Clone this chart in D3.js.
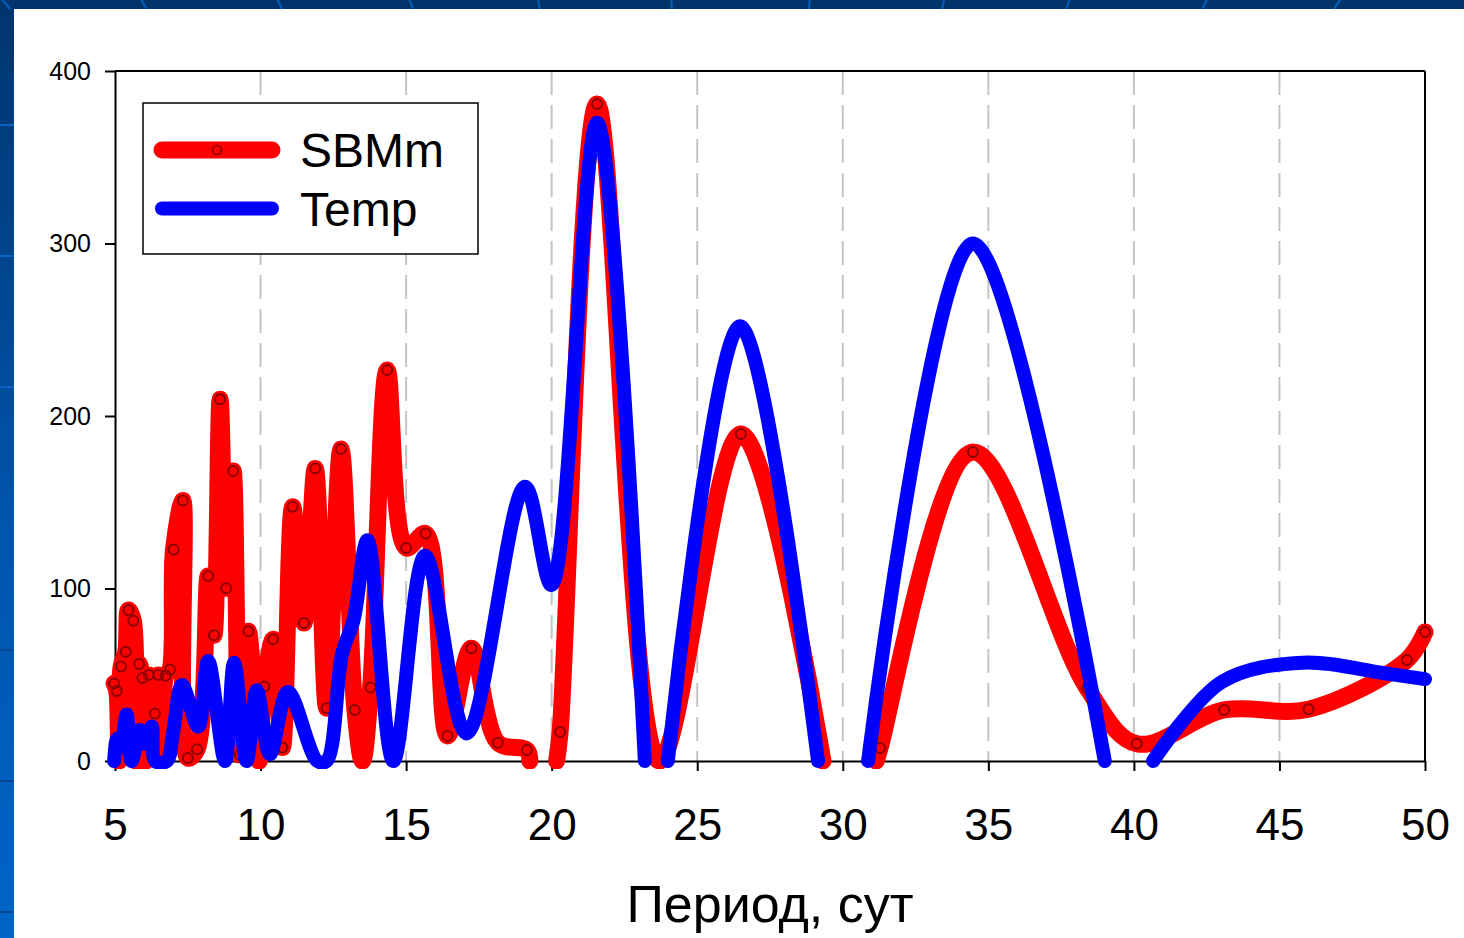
<!DOCTYPE html>
<html>
<head>
<meta charset="utf-8">
<script src="https://cdn.jsdelivr.net/npm/d3@7"></script>
<style>
  body { margin: 0; background: #fff; }
  text { font-family: "Liberation Sans", Arial, sans-serif; }
</style>
</head>
<body>
<script>
// оси
const xTicks = [5, 10, 15, 20, 25, 30, 35, 40, 45, 50];
const yTicks = [0, 100, 200, 300, 400];

// SBMm (красная линия с маркерами), 0 = кривая касается оси, null = разрыв
const sbmPeriod = [4.97, 5.06, 5.13, 5.21, 5.37, 5.46, 5.63, 5.72, 5.83, 5.94, 6.05, 6.16, 6.37, 6.49, 6.6, 6.74, 6.89, 7.01, 7.33, 7.50, 7.82, 8.20, 8.40, 8.61, 8.82, 9.06, 9.29, 9.58, 9.95, 10.13, 10.43, 10.75, 11.10, 11.49, 11.88, 12.27, 12.76, 13.24, 13.5, 13.78, 14.35, 15.00, 15.67, 16.42, 17.24, 18.15, 19.15, 19.25, 19.7, 20.17, 20.29, 21.56, 23.7, 26.5, 29.32, 30.2, 31.15, 31.28, 34.47, 38.4, 40.1, 43.1, 46.0, 49.38, 50.0];
const sbmValue = [45, 40.6, 0, 54.8, 63.4, 87.5, 81.3, 0, 56.2, 48.1, 0, 49.9, 27.6, 49.9, 0, 49.4, 53.0, 122.6, 151.0, 1.7, 6.8, 107.2, 72.9, 209.7, 100.1, 168.1, 3.5, 75.2, 0, 43.2, 70.6, 7.8, 147.4, 80.0, 169.6, 30.6, 180.8, 29.6, 0, 42.6, 226.7, 123.5, 131.9, 14.5, 65.3, 10.6, 6.4, 0, null, 0, 16.8, 380.9, 0, 189.6, 0, null, 0, 7.5, 179.1, 42, 10, 29.6, 30, 58.6, 74.8];

// Temp (синяя линия)
const tempPeriod = [4.97, 5.07, 5.2, 5.4, 5.57, 5.86, 6.0, 6.26, 6.38, 6.78, 7.0, 7.3, 7.86, 8.2, 8.78, 9.09, 9.52, 9.87, 10.32, 10.94, 11.95, 12.27, 12.8, 13.2, 13.67, 14.56, 15.65, 17.08, 19.08, 19.99, 21.56, 23.2, 23.6, 23.99, 26.47, 29.15, 30.0, 30.87, 34.47, 39.0, 39.8, 40.66, 43.03, 45.8, 48.56, 50.0];
const tempValue = [0, 13, 8, 27, 0, 18, 10, 20, 0, 0, 17, 44, 20, 58, 0, 57, 0, 41, 4, 40, 0, 0, 62, 82, 128, 0, 119, 16, 159, 102, 370, 0, null, 0, 252, 0, null, 0, 300, 0, null, 0, 46, 57, 51, 47.5];

const w = 1464;
const h = 938;

const sbm = sbmPeriod.map((p, i) => ({ p: p, v: sbmValue[i] }));
const temp = tempPeriod.map((p, i) => ({ p: p, v: tempValue[i] }));

const svg = d3.select("body").append("svg").attr("width", w).attr("height", h);

// фон слайда
const grad = svg.append("defs").append("linearGradient")
  .attr("id", "bandGrad").attr("x1", 0).attr("y1", 0).attr("x2", 0).attr("y2", 1);
grad.append("stop").attr("offset", "0%").attr("stop-color", "#00356e");
grad.append("stop").attr("offset", "55%").attr("stop-color", "#0054ac");
grad.append("stop").attr("offset", "100%").attr("stop-color", "#0064c8");

svg.append("rect").attr("width", w).attr("height", h).attr("fill", "#fff");
svg.append("rect").attr("width", w).attr("height", 9).attr("fill", "#00336a");
svg.append("rect").attr("width", 14).attr("height", h).attr("fill", "url(#bandGrad)");

[10, 147, 282, 413, 540, 672, 809, 942, 1066, 1202, 1334].forEach(function (bx) {
  svg.append("line")
    .attr("x1", bx + (bx - 732) * 0.01).attr("y1", 0)
    .attr("x2", bx).attr("y2", 9)
    .attr("stroke", "#0060c0").attr("stroke-width", 2);
});
[125, 256, 387, 650, 781, 912].forEach(function (by) {
  svg.append("line")
    .attr("x1", 0).attr("y1", by).attr("x2", 14).attr("y2", by)
    .attr("stroke", by < 500 ? "#0a62c4" : "#0a4690").attr("stroke-width", 2);
});

const xScale = d3.scaleLinear().domain([5, 50]).range([115, 1425]);
const yScale = d3.scaleLinear().domain([0, 400]).range([761, 71]);

// вертикальная сетка
svg.append("g")
  .selectAll("line")
  .data(xTicks.slice(1, -1))
  .enter()
  .append("line")
  .attr("x1", d => xScale(d)).attr("x2", d => xScale(d))
  .attr("y1", yScale(400)).attr("y2", yScale(0))
  .attr("stroke", "#c4c4c4").attr("stroke-width", 2)
  .attr("stroke-dasharray", "24,10");

// рамка сверху и справа
svg.append("line")
  .attr("x1", xScale(5)).attr("x2", xScale(50))
  .attr("y1", yScale(400)).attr("y2", yScale(400))
  .attr("stroke", "#000").attr("stroke-width", 2);
svg.append("line")
  .attr("x1", xScale(50)).attr("x2", xScale(50))
  .attr("y1", yScale(400)).attr("y2", yScale(0))
  .attr("stroke", "#000").attr("stroke-width", 2);

// оси
const xAxis = d3.axisBottom(xScale).tickValues(xTicks).tickSize(10).tickSizeOuter(0).tickPadding(38);
const yAxis = d3.axisLeft(yScale).tickValues(yTicks).tickSize(10).tickSizeOuter(0).tickPadding(14);

const gx = svg.append("g")
  .attr("transform", "translate(0," + yScale(0) + ")")
  .call(xAxis);
gx.selectAll("text").attr("font-size", "44px").attr("dy", "0.71em").attr("fill", "#000")
  .style("font-family", "'Liberation Sans', Arial, sans-serif");

const gy = svg.append("g")
  .attr("transform", "translate(" + xScale(5) + ",0)")
  .call(yAxis);
gy.selectAll("text").attr("font-size", "25px").attr("fill", "#000")
  .style("font-family", "'Liberation Sans', Arial, sans-serif");

[gx, gy].forEach(function (g) {
  g.select(".domain").attr("stroke", "#000").attr("stroke-width", 2);
  g.selectAll(".tick line").attr("stroke", "#000").attr("stroke-width", 2);
});

// кривые обрезаются по нулю
svg.append("clipPath").attr("id", "plotClip")
  .append("rect").attr("x", 0).attr("y", yScale(400) - 8).attr("width", w).attr("height", yScale(0) - yScale(400) + 16);

const line = d3.line()
  .defined(d => d.v !== null)
  .x(d => xScale(d.p))
  .y(d => yScale(d.v))
  .curve(d3.curveCatmullRom.alpha(0.5));

const plot = svg.append("g").attr("clip-path", "url(#plotClip)");

plot.append("path")
  .datum(sbm)
  .attr("d", line)
  .attr("fill", "none")
  .attr("stroke", "#ff0000")
  .attr("stroke-width", 17)
  .attr("stroke-linecap", "round")
  .attr("stroke-linejoin", "round");

plot.selectAll("circle.m")
  .data(sbm.filter(d => d.v !== null && d.v > 0))
  .enter()
  .append("circle")
  .attr("class", "m")
  .attr("cx", d => xScale(d.p))
  .attr("cy", d => yScale(d.v))
  .attr("r", 5)
  .attr("fill", "none")
  .attr("stroke", "#8a0000")
  .attr("stroke-width", 2);

plot.append("path")
  .datum(temp)
  .attr("d", line)
  .attr("fill", "none")
  .attr("stroke", "#0000ff")
  .attr("stroke-width", 14)
  .attr("stroke-linecap", "round")
  .attr("stroke-linejoin", "round");

// легенда
const legend = svg.append("g");
legend.append("rect")
  .attr("x", 143).attr("y", 103).attr("width", 335).attr("height", 151)
  .attr("fill", "#fff").attr("stroke", "#000").attr("stroke-width", 1.5);

const legendItems = [
  { name: "SBMm", color: "#ff0000", width: 17, marker: true },
  { name: "Temp", color: "#0000ff", width: 14, marker: false }
];
legendItems.forEach(function (d, i) {
  const ly = 150 + i * 58.5;
  legend.append("line")
    .attr("x1", 162).attr("x2", 272).attr("y1", ly).attr("y2", ly)
    .attr("stroke", d.color).attr("stroke-width", d.width).attr("stroke-linecap", "round");
  if (d.marker) {
    legend.append("circle").attr("cx", 217).attr("cy", ly).attr("r", 4.5)
      .attr("fill", "none").attr("stroke", "#8a0000").attr("stroke-width", 1.6);
  }
  legend.append("text")
    .attr("x", 300).attr("y", ly + 17)
    .attr("font-size", "48px")
    .attr("fill", "#000")
    .text(d.name);
});

// подпись оси X
svg.append("text")
  .attr("x", 770).attr("y", 922)
  .attr("text-anchor", "middle")
  .attr("font-size", "52px")
  .attr("fill", "#000")
  .text("Период, сут");
</script>
</body>
</html>
